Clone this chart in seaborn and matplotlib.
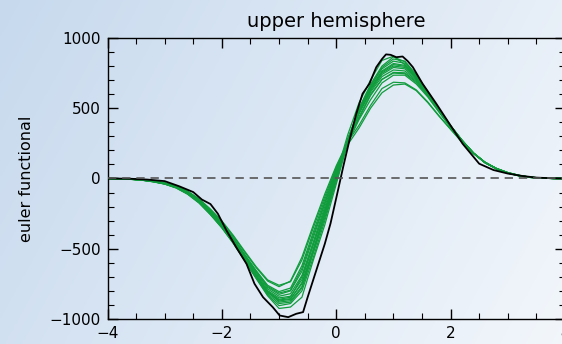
import numpy as np
import pandas as pd
import seaborn as sns
import matplotlib.pyplot as plt
from matplotlib.ticker import MultipleLocator

# Courbe noire
x_noir = [-4.0, -3.6, -3.3, -3.0, -2.75, -2.5, -2.35, -2.2, -2.07, -1.92, -1.75, -1.57,
          -1.43, -1.28, -1.11, -0.99, -0.84, -0.70, -0.58, -0.50, -0.35, -0.20, -0.10,
          0.03, 0.12, 0.23, 0.35, 0.46, 0.58, 0.70, 0.80, 0.87, 0.95, 1.05, 1.16, 1.25,
          1.34, 1.51, 1.75, 1.98, 2.21, 2.5, 2.75, 3.0, 3.25, 3.5, 3.75, 4.0]
y_noir = [0, -2, -8, -19, -55, -97, -150, -182, -251, -370, -489, -607,
          -749, -845, -916, -975, -987, -963, -951, -845, -655, -465, -320,
          -85, 80, 270, 460, 603, 674, 792, 850, 883, 880, 863, 868, 835,
          792, 674, 532, 389, 247, 105, 60, 35, 18, 6, 2, 0]

# Courbes vertes, grille commune
x_vert = [-4.0, -3.8, -3.6, -3.4, -3.2, -3.0, -2.8, -2.6, -2.4, -2.2, -2.0, -1.8, -1.6, -1.4,
          -1.2, -1.0, -0.8, -0.6, -0.4, -0.2, 0.0, 0.2, 0.4, 0.6, 0.8, 1.0, 1.2, 1.4,
          1.6, 1.8, 2.0, 2.2, 2.4, 2.6, 2.8, 3.0, 3.2, 3.4, 3.6, 3.8, 4.0]
g1 = [0, -2, -6, -12, -24, -40, -68, -112, -175, -258, -352, -462, -585, -710, -830, -905, -890, -800, -560, -300, -20, 260, 500, 670, 800, 865, 830, 730, 615, 490, 375, 272, 180, 112, 68, 38, 18, 7, 2, 0, 0]
g2 = [0, -1, -4, -9, -18, -32, -55, -92, -148, -222, -308, -412, -525, -635, -730, -770, -730, -560, -330, -110, 90, 260, 380, 520, 640, 685, 680, 630, 545, 445, 350, 258, 178, 115, 72, 42, 22, 9, 3, 0, 0]
g3 = [0, -2, -5, -11, -21, -37, -62, -104, -165, -248, -340, -450, -572, -695, -805, -860, -845, -700, -470, -220, 25, 270, 470, 635, 750, 800, 790, 715, 605, 485, 372, 270, 182, 116, 70, 40, 20, 8, 2, 0, 0]
g4 = [0, -2, -5, -10, -19, -34, -58, -98, -158, -236, -325, -432, -550, -668, -775, -825, -800, -660, -420, -180, 50, 260, 430, 590, 705, 755, 752, 690, 592, 478, 368, 268, 180, 114, 70, 40, 20, 8, 2, 0, 0]
g5 = [0, -2, -6, -12, -23, -39, -66, -110, -172, -255, -350, -460, -585, -712, -835, -925, -915, -845, -580, -330, -40, 250, 490, 655, 790, 850, 835, 740, 620, 492, 376, 272, 180, 112, 68, 38, 18, 7, 2, 0, 0]
g6 = [0, -1, -4, -9, -18, -33, -57, -96, -153, -230, -318, -425, -540, -655, -760, -805, -780, -620, -380, -150, 70, 250, 420, 560, 680, 735, 735, 672, 580, 470, 362, 264, 178, 114, 70, 41, 21, 9, 3, 0, 0]
g7 = [0, -2, -5, -11, -22, -38, -64, -106, -168, -252, -345, -455, -578, -700, -812, -872, -860, -740, -500, -250, 10, 280, 485, 645, 765, 818, 805, 725, 612, 488, 374, 271, 181, 114, 69, 39, 19, 8, 2, 0, 0]
g8 = [0, -1, -4, -9, -17, -31, -54, -90, -145, -218, -302, -405, -518, -628, -722, -760, -735, -580, -350, -130, 80, 240, 360, 500, 610, 665, 672, 625, 540, 442, 350, 258, 178, 116, 72, 42, 22, 9, 3, 0, 0]
g9 = [0, -2, -5, -10, -20, -36, -61, -102, -162, -244, -335, -444, -565, -688, -798, -850, -838, -720, -470, -230, 15, 265, 470, 625, 740, 790, 780, 705, 600, 482, 370, 268, 180, 115, 70, 40, 20, 8, 2, 0, 0]
g10 = [0, -2, -6, -12, -23, -39, -65, -108, -170, -254, -348, -458, -580, -705, -820, -890, -880, -780, -530, -280, -10, 275, 495, 660, 780, 835, 820, 732, 616, 490, 374, 271, 180, 113, 68, 38, 19, 7, 2, 0, 0]
g11 = [0, -1, -5, -10, -19, -35, -59, -100, -160, -240, -330, -438, -558, -678, -786, -838, -820, -690, -450, -200, 40, 270, 460, 615, 725, 772, 765, 698, 598, 482, 370, 268, 180, 115, 71, 41, 21, 8, 2, 0, 0]
g12 = [0, -2, -5, -11, -21, -37, -63, -105, -166, -250, -343, -452, -575, -698, -808, -865, -855, -750, -510, -260, 5, 280, 485, 640, 758, 810, 798, 720, 608, 486, 372, 270, 181, 115, 70, 40, 20, 8, 2, 0, 0]
g13 = [0, -2, -5, -11, -22, -38, -64, -106, -168, -250, -342, -450, -570, -692, -802, -880, -870, -770, -520, -250, 30, 310, 540, 700, 840, 870, 810, 720, 608, 486, 372, 270, 181, 115, 70, 40, 20, 8, 2, 0, 0]
g14 = [0, -1, -4, -10, -19, -34, -58, -97, -156, -234, -322, -428, -545, -662, -768, -815, -795, -640, -400, -170, 60, 255, 440, 600, 705, 750, 745, 682, 588, 476, 366, 266, 179, 114, 70, 41, 21, 8, 2, 0, 0]
courbes_vertes = [g1, g2, g3, g4, g5, g6, g7, g8, g9, g10, g11, g12, g13, g14]

titre = "upper hemisphere"
label_y = "euler functional"

# Tableau long pour seaborn
df_vert = pd.concat([pd.DataFrame({"x": x_vert, "y": g, "id": i})
                     for i, g in enumerate(courbes_vertes)], ignore_index=True)
df_noir = pd.DataFrame({"x": x_noir, "y": y_noir})

sns.set_style("ticks")
plt.rcParams['font.family'] = ['DejaVu Sans']

fig = plt.figure(figsize=(5.62, 3.44), dpi=100)

# Fond en dégradé
fond = fig.add_axes([0, 0, 1, 1], zorder=-1)
gx, gy = np.meshgrid(np.linspace(0, 1, 200), np.linspace(0, 1, 120))
t = 0.75 * gx + 0.25 * gy
c0 = np.array([0.78, 0.852, 0.932])
c1 = np.array([0.95, 0.966, 0.985])
img = c0[None, None, :] * (1 - t[..., None]) + c1[None, None, :] * t[..., None]
fond.imshow(img, extent=[0, 1, 0, 1], aspect='auto', origin='upper')
fond.axis('off')

ax = fig.add_axes([0.1913, 0.0727, 0.814, 0.817])
ax.set_facecolor('none')

sns.lineplot(data=df_vert, x="x", y="y", units="id", estimator=None,
             color='#109c3c', linewidth=0.9, ax=ax, zorder=2)
sns.lineplot(data=df_noir, x="x", y="y", color='black', linewidth=1.3, ax=ax, zorder=3)
ax.axhline(0, color='#555555', linestyle=(0, (5, 3.5)), linewidth=1.2, zorder=4)

ax.set_xlim(-4, 4)
ax.set_ylim(-1000, 1000)
ax.xaxis.set_major_locator(MultipleLocator(2))
ax.xaxis.set_minor_locator(MultipleLocator(0.5))
ax.yaxis.set_major_locator(MultipleLocator(500))
ax.yaxis.set_minor_locator(MultipleLocator(100))
ax.tick_params(which='both', direction='in', top=True, right=True, color='black')
ax.tick_params(which='major', length=7, width=1, labelsize=11, labelcolor='black')
ax.tick_params(which='minor', length=4, width=0.8)
ax.tick_params(axis='x', pad=5)
ax.tick_params(axis='y', pad=5)
for s in ax.spines.values():
    s.set_color('black')
    s.set_linewidth(1)

ax.set_xlabel("")
ax.set_ylabel(label_y, fontsize=11.5, color='black')
ax.yaxis.set_label_coords(-0.16, 0.5)
ax.set_title(titre, fontsize=14, pad=8, color='black')

fig.savefig("out.png", dpi=100)
